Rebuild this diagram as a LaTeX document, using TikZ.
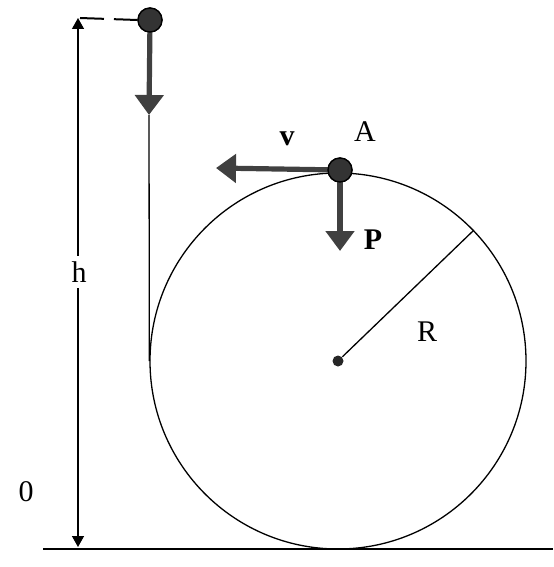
\documentclass[tikz,border=0pt]{standalone}
\usepackage{fontspec}
\setmainfont{Liberation Serif}
\usetikzlibrary{arrows.meta}
\tikzset{
  every path/.style={line width=0.65pt},
  mass/.style={circle, fill=black!80, draw=black, inner sep=0pt, minimum size=12pt},
  force/.style={-{Triangle[width=14pt, length=10pt]}, line width=2.6pt, draw=black!75},
  dim/.style={{Triangle[width=6pt, length=5.5pt]}-{Triangle[width=6pt, length=5.5pt]}},
  lbl/.style={font=\fontsize{15}{18}\selectfont, inner sep=1pt},
  vec/.style={lbl, font=\fontsize{15}{18}\selectfont\bfseries},
}
\begin{document}
\begin{tikzpicture}[x=0.5pt, y=-0.5pt]
  \useasboundingbox (0,0) rectangle (553,567);
  % loop and ground
  \node[circle, draw, inner sep=0pt, minimum size=188pt] (loop) at (338,361) {};
  \draw (43,549) -- (553,549);
  \node[circle, fill=black!85, inner sep=0pt, minimum size=5.5pt] (cen) at (338,361) {};
  \coordinate (rim) at (474,230);
  \draw (cen) -- (rim);
  \node[lbl] (labR) at (427,332) {R};
  % starting mass and height
  \node[mass] (start) at (150,20) {};
  \coordinate (fall) at (149,115);
  \draw (fall) -- (loop.west);
  \draw[force] (start.center) -- (fall);
  \node[mass] at (start) {};
  \coordinate (dtop) at (80,18);
  \coordinate (dbot) at (78,547);
  \draw[line width=1pt, dash pattern=on 12pt off 5pt] (dtop) -- (start.west);
  \draw[dim] (78,18) -- (dbot);
  \node[lbl, fill=white, inner sep=3pt] (labh) at (79,272) {h};
  \node[lbl] (lab0) at (26,492) {0};
  % mass at the top of the loop
  \node[mass] (ballA) at (340,170) {};
  \coordinate (vtip) at (216,168);
  \coordinate (ptip) at (340,251);
  \draw[force] (ballA.center) -- (vtip);
  \draw[force] (ballA.center) -- (ptip);
  \node[mass] at (ballA) {};
  \node[vec] (labv) at (287,139) {v};
  \node[lbl] (labA) at (365,132) {A};
  \node[vec] (labP) at (373,240) {P};
\end{tikzpicture}
\end{document}
